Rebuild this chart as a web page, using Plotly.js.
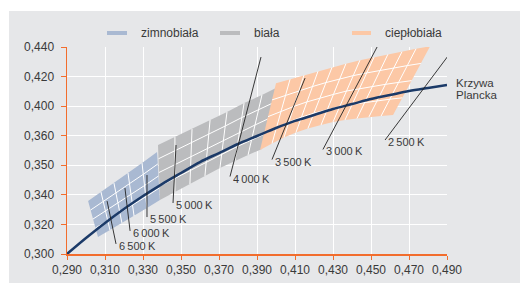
<!DOCTYPE html>
<html><head><meta charset="utf-8">
<script src="https://cdn.plot.ly/plotly-3.0.1.min.js"></script>
<style>html,body{margin:0;padding:0;background:#fff}#chart{width:520px;height:283px}</style>
</head><body><div id="chart"></div>
<script>
// Planck locus (CIE x, y)
const planckX = [0.290,0.300,0.310,0.320,0.330,0.340,0.350,0.360,0.370,0.380,0.390,0.400,0.410,0.420,0.430,0.440,0.450,0.460,0.470,0.480,0.490];
const planckY = [0.3000,0.3108,0.3210,0.3304,0.3392,0.3473,0.3548,0.3622,0.3683,0.3744,0.3798,0.3852,0.3900,0.3940,0.3981,0.4014,0.4048,0.4075,0.4102,0.4123,0.4143];

// Bands: column boundaries (top and bottom points)
const coolTopX = [0.3011,0.3079,0.3147,0.3221,0.3295,0.3374];
const coolTopY = [0.3358,0.3419,0.3480,0.3548,0.3615,0.3690];
const coolBotX = [0.3063,0.3126,0.3189,0.3253,0.3321,0.3389];
const coolBotY = [0.3115,0.3162,0.3210,0.3257,0.3311,0.3365];

const whiteTopX = [0.3379,0.3468,0.3558,0.3653,0.3742,0.3832,0.3926,0.4021];
const whiteTopY = [0.3737,0.3791,0.3845,0.3906,0.3960,0.4021,0.4075,0.4136];
const whiteBotX = [0.3389,0.3468,0.3547,0.3626,0.3705,0.3784,0.3853,0.3926];
const whiteBotY = [0.3365,0.3419,0.3473,0.3528,0.3582,0.3629,0.3670,0.3710];

const warmTopX = [0.4000,0.4074,0.4147,0.4221,0.4295,0.4368,0.4442,0.4516,0.4589,0.4663,0.4737,0.4811];
const warmTopY = [0.4155,0.4182,0.4209,0.4236,0.4263,0.4287,0.4311,0.4331,0.4351,0.4368,0.4388,0.4405];
const warmBotX = [0.3916,0.3979,0.4042,0.4105,0.4168,0.4237,0.4300,0.4363,0.4426,0.4489,0.4553,0.4616];
const warmBotY = [0.3703,0.3747,0.3788,0.3822,0.3849,0.3872,0.3893,0.3906,0.3916,0.3927,0.3933,0.3940];

// Isotherm markers
const isoLabels = ['6\u2009500\u2009K','6\u2009000\u2009K','5\u2009500\u2009K','5\u2009000\u2009K','4\u2009000\u2009K','3\u2009500\u2009K','3\u2009000\u2009K','2\u2009500\u2009K'];
const isoTopX = [0.3111,0.3205,0.3321,0.3474,0.3921,0.4153,0.4532,0.4921];
const isoTopY = [0.3358,0.3446,0.3534,0.3737,0.4332,0.4190,0.4400,0.4366];
const isoBotX = [0.3158,0.3232,0.3321,0.3458,0.3758,0.3979,0.4247,0.4574];
const isoBotY = [0.3068,0.3156,0.3250,0.3345,0.3524,0.3639,0.3707,0.3771];

// Axis ticks
const xTickVals = [0.29,0.31,0.33,0.35,0.37,0.39,0.41,0.43,0.45,0.47,0.49];
const yTickVals = [0.30,0.32,0.34,0.36,0.38,0.40,0.42,0.44];
const yTickText = ['0,300','0,320','0,340','0,350','0,360','0,400','0,420','0,440'];

const bandNames = ['zimnobiała','biała','ciepłobiała'];
const bandColors = ['#a9b9d2','#bbbcbe','#fcc8a6'];

const FONT = '"Liberation Sans Narrow","Arial Narrow","Liberation Sans",Arial,sans-serif';
const TXT = '#3a3a3a';
const ORANGE = '#f26d2d';
const BG = '#e6e7e9';

function bandTraces(tx, ty, bx, by, color) {
  const px = tx.concat(bx.slice().reverse()); px.push(tx[0]);
  const py = ty.concat(by.slice().reverse()); py.push(ty[0]);
  const fill = {x: px, y: py, type: 'scatter', mode: 'lines', fill: 'toself',
    fillcolor: color, line: {width: 0}, hoverinfo: 'skip', showlegend: false};
  const gx = [], gy = [];
  for (let i = 1; i < tx.length - 1; i++) { gx.push(bx[i], tx[i], null); gy.push(by[i], ty[i], null); }
  const rows = 4;
  for (let r = 1; r < rows; r++) {
    const f = r / rows;
    for (let i = 0; i < tx.length; i++) { gx.push(bx[i] + f * (tx[i] - bx[i])); gy.push(by[i] + f * (ty[i] - by[i])); }
    gx.push(null); gy.push(null);
  }
  const grid = {x: gx, y: gy, type: 'scatter', mode: 'lines', line: {color: '#ffffff', width: 1},
    hoverinfo: 'skip', showlegend: false};
  return [fill, grid];
}

const traces = [];
traces.push(...bandTraces(coolTopX, coolTopY, coolBotX, coolBotY, bandColors[0]));
traces.push(...bandTraces(whiteTopX, whiteTopY, whiteBotX, whiteBotY, bandColors[1]));
traces.push(...bandTraces(warmTopX, warmTopY, warmBotX, warmBotY, bandColors[2]));

traces.push({x: planckX, y: planckY, type: 'scatter', mode: 'lines', line: {color: '#1b3a68', width: 2.5, shape: 'spline'},
  hoverinfo: 'skip', showlegend: false});

const ix = [], iy = [];
for (let i = 0; i < isoLabels.length; i++) { ix.push(isoTopX[i], isoBotX[i], null); iy.push(isoTopY[i], isoBotY[i], null); }
traces.push({x: ix, y: iy, type: 'scatter', mode: 'lines', line: {color: '#222222', width: 0.9},
  hoverinfo: 'skip', showlegend: false});

const annotations = isoLabels.map((t, i) => ({
  x: isoBotX[i], y: isoBotY[i], xref: 'x', yref: 'y', text: t, showarrow: false,
  xanchor: 'left', yanchor: 'middle', xshift: 2, yshift: -2, borderpad: 0, height: 12,
  font: {family: FONT, size: 11, color: TXT}
}));
const n = planckX.length - 1;
annotations.push({x: planckX[n], y: planckY[n], xref: 'x', yref: 'y', text: 'Krzywa', showarrow: false,
  xanchor: 'left', yanchor: 'middle', xshift: 8, yshift: 2, borderpad: 0, height: 12,
  font: {family: FONT, size: 11.5, color: TXT}});
annotations.push({x: planckX[n], y: planckY[n], xref: 'x', yref: 'y', text: 'Plancka', showarrow: false,
  xanchor: 'left', yanchor: 'middle', xshift: 8, yshift: -10, borderpad: 0, height: 12,
  font: {family: FONT, size: 11.5, color: TXT}});

// manual legend
const legBar = [[0.1053, 0.1579], [0.4026, 0.4553], [0.7500, 0.8000]];
const legTxt = [0.1895, 0.4868, 0.8316];
const shapes = [{type: 'rect', xref: 'paper', yref: 'paper', x0: -0.1526, x1: 1.2, y0: -0.2, y1: 1.1739,
  fillcolor: BG, line: {width: 0}, layer: 'below'}];
bandNames.forEach((nm, i) => {
  shapes.push({type: 'line', xref: 'paper', yref: 'paper', x0: legBar[i][0], x1: legBar[i][1], y0: 1.0676, y1: 1.0676,
    line: {color: bandColors[i], width: 4}});
  annotations.push({xref: 'paper', yref: 'paper', x: legTxt[i], y: 1.0676, text: nm, showarrow: false,
    xanchor: 'left', yanchor: 'middle', font: {family: FONT, size: 12, color: TXT}});
});

const axisCommon = {showline: true, linecolor: ORANGE, linewidth: 1.5, ticks: 'outside', tickcolor: ORANGE,
  tickwidth: 1, gridcolor: '#ffffff', gridwidth: 1, zeroline: false, fixedrange: true,
  tickfont: {family: FONT, size: 12, color: TXT}};

const layout = {
  width: 520, height: 283,
  margin: {l: 67, r: 73, t: 47, b: 29, pad: 0},
  paper_bgcolor: '#ffffff', plot_bgcolor: BG,
  separators: ', ',
  showlegend: false,
  xaxis: Object.assign({}, axisCommon, {range: [0.29, 0.49], tickvals: xTickVals, tickformat: '.3f', ticklen: 4}),
  yaxis: Object.assign({}, axisCommon, {range: [0.30, 0.44], tickvals: yTickVals, ticktext: yTickText, ticklen: 5, ticklabelstandoff: 4}),
  shapes: shapes,
  annotations: annotations
};

Plotly.newPlot('chart', traces, layout, {displayModeBar: false, staticPlot: true});
</script>
</body></html>
